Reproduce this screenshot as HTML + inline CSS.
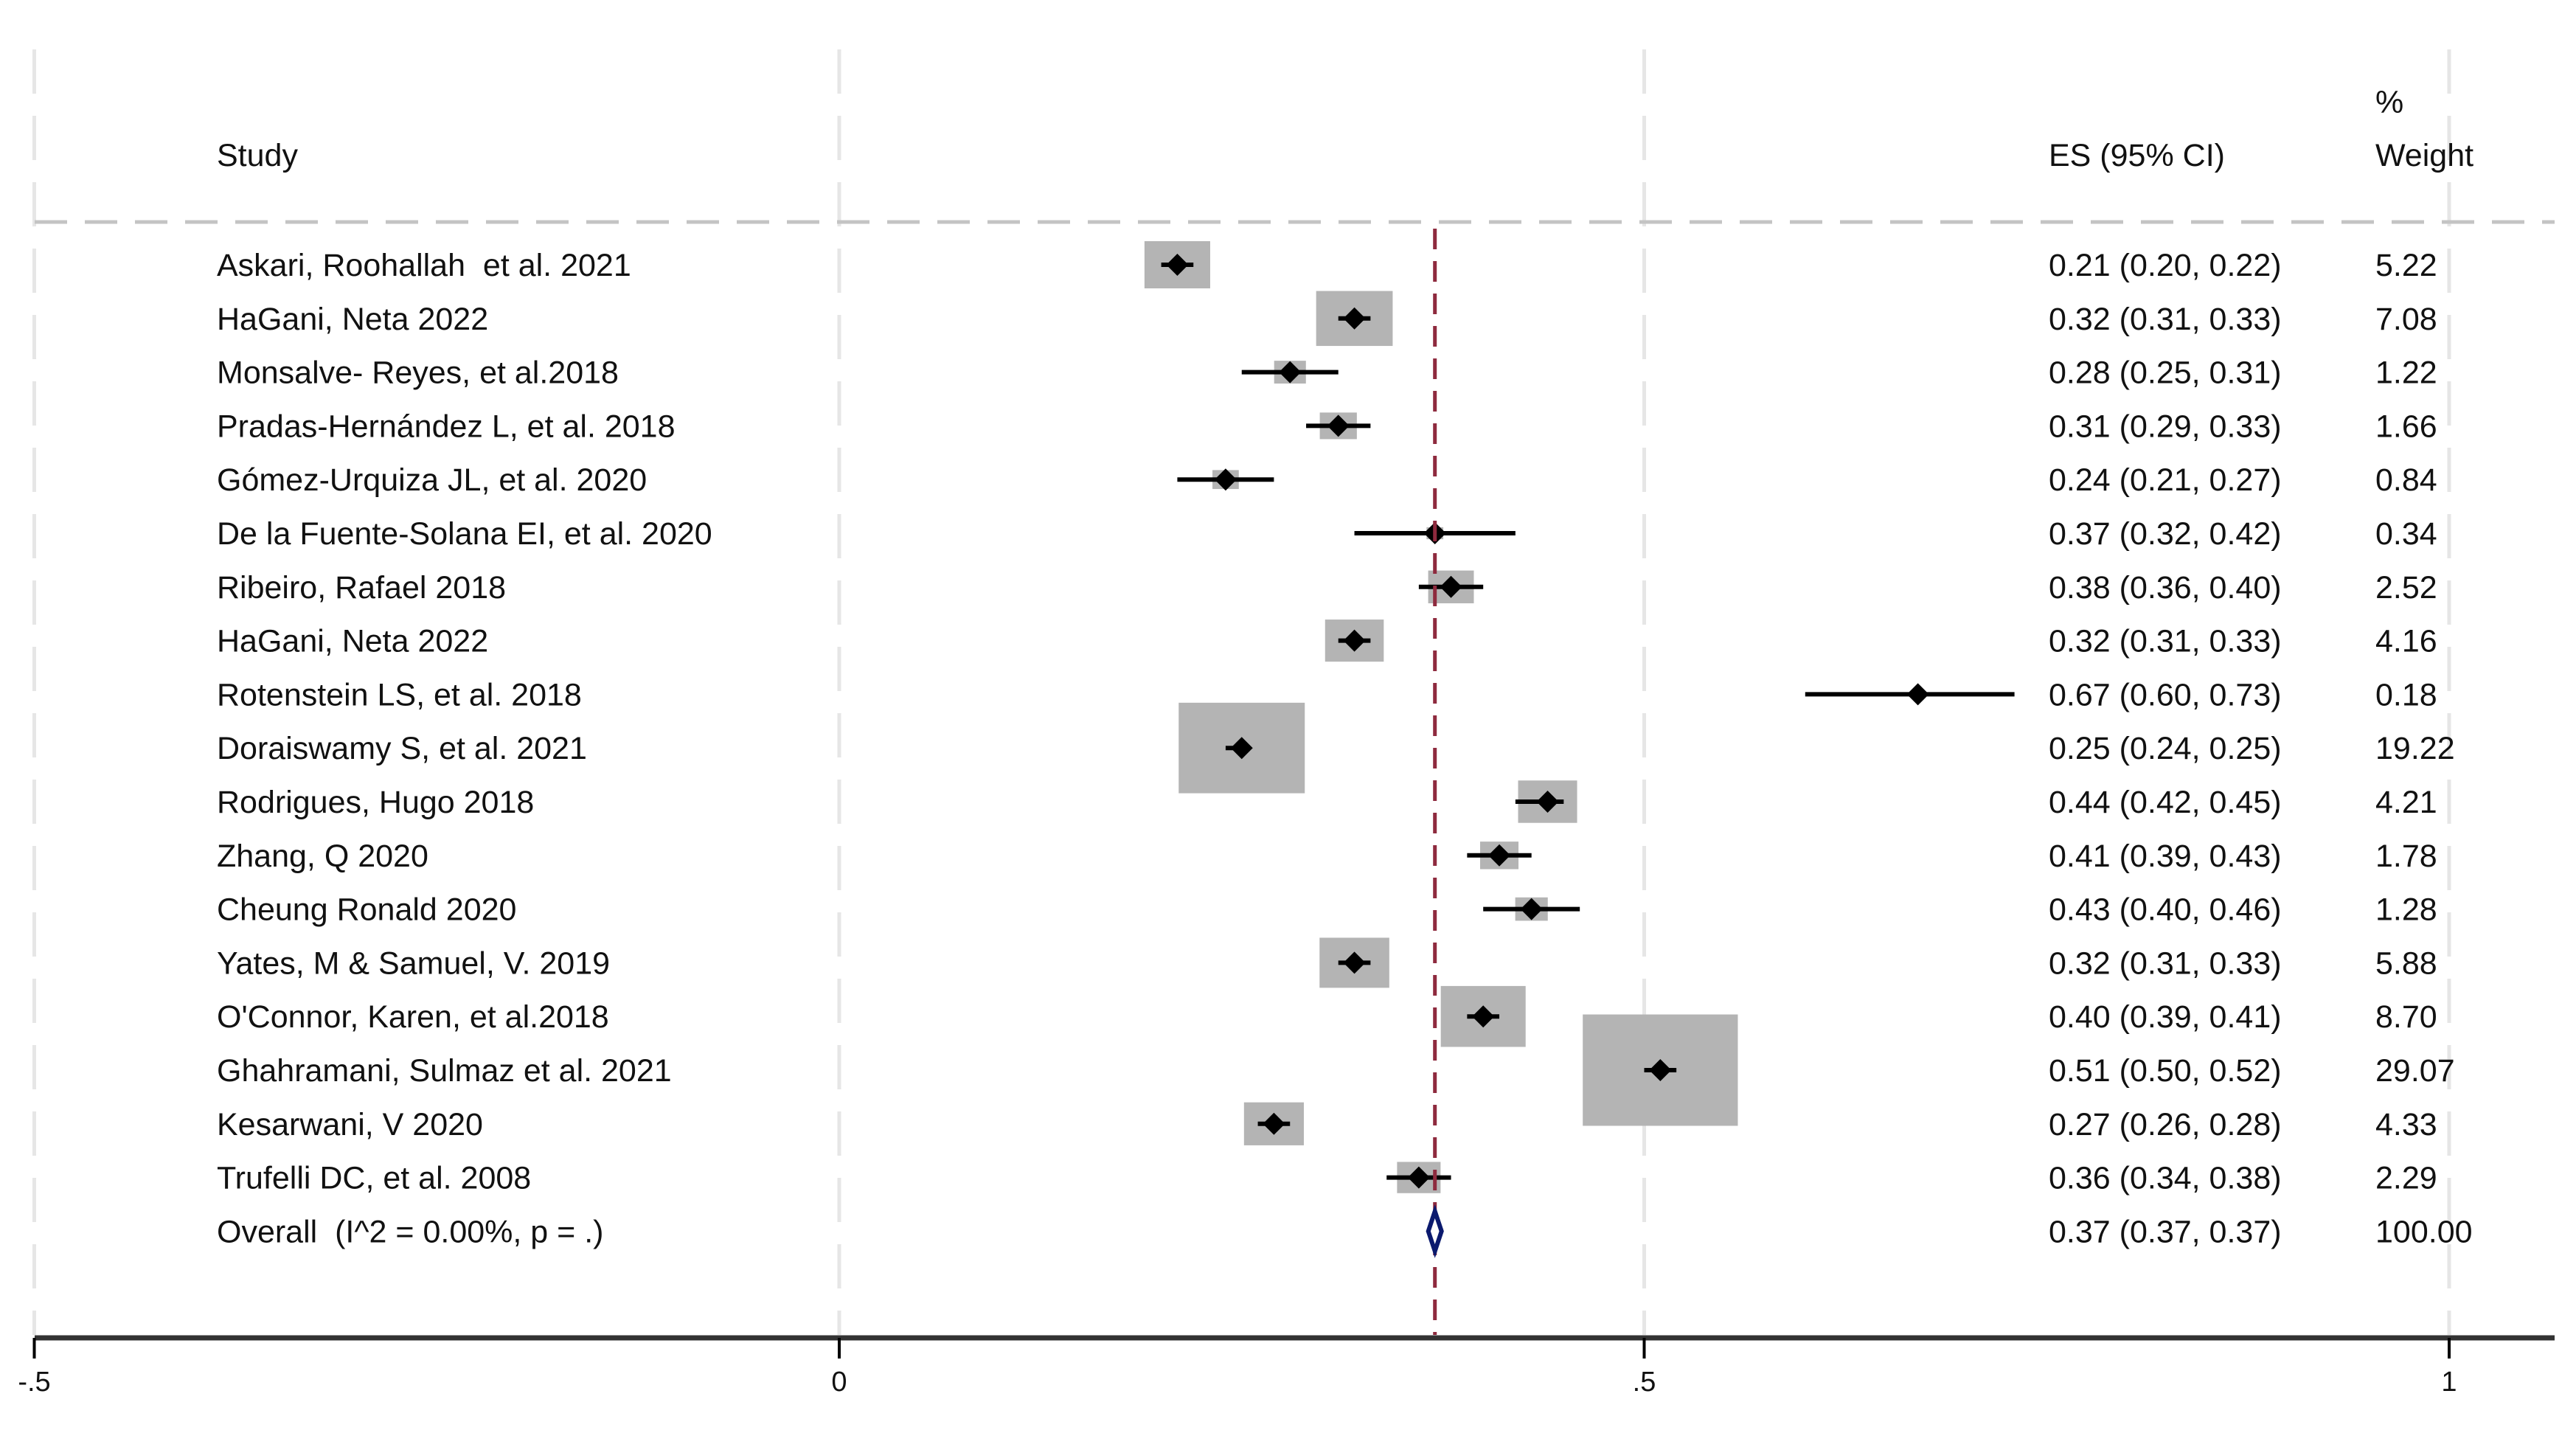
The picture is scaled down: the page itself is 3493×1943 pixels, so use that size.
<!DOCTYPE html>
<html><head><meta charset="utf-8"><style>
html,body{margin:0;padding:0;background:#fff;}
svg{display:block;}
text{font-family:"Liberation Sans",Arial,sans-serif;fill:#111;white-space:pre;}
</style></head><body>
<svg id="chart" width="3493" height="1943" viewBox="0 0 3493 1943" xmlns="http://www.w3.org/2000/svg">
<g id="grid"></g>
<g id="header">
<text x="294" y="225" font-size="43">Study</text>
<text x="2778" y="225" font-size="43">ES (95% CI)</text>
<text x="3221" y="153" font-size="43">%</text>
<text x="3221" y="225" font-size="43">Weight</text>
</g>
<line x1="47" y1="301" x2="3464" y2="301" stroke="#c4c4c4" stroke-width="5" stroke-dasharray="44,24"/>
<g id="marks"></g>
<g id="labels"></g>
<g id="axis"></g>
</svg>
<script>
const studies = ["Askari, Roohallah  et al. 2021","HaGani, Neta 2022","Monsalve- Reyes, et al.2018","Pradas-Hernández L, et al. 2018","Gómez-Urquiza JL, et al. 2020","De la Fuente-Solana EI, et al. 2020","Ribeiro, Rafael 2018","HaGani, Neta 2022","Rotenstein LS, et al. 2018","Doraiswamy S, et al. 2021","Rodrigues, Hugo 2018","Zhang, Q 2020","Cheung Ronald 2020","Yates, M & Samuel, V. 2019","O'Connor, Karen, et al.2018","Ghahramani, Sulmaz et al. 2021","Kesarwani, V 2020","Trufelli DC, et al. 2008"];
const es = [0.21,0.32,0.28,0.31,0.24,0.37,0.38,0.32,0.67,0.25,0.44,0.41,0.43,0.32,0.40,0.51,0.27,0.36];
const lo = [0.20,0.31,0.25,0.29,0.21,0.32,0.36,0.31,0.60,0.24,0.42,0.39,0.40,0.31,0.39,0.50,0.26,0.34];
const hi = [0.22,0.33,0.31,0.33,0.27,0.42,0.40,0.33,0.73,0.25,0.45,0.43,0.46,0.33,0.41,0.52,0.28,0.38];
const weights = [5.22,7.08,1.22,1.66,0.84,0.34,2.52,4.16,0.18,19.22,4.21,1.78,1.28,5.88,8.70,29.07,4.33,2.29];
const overall = {label:"Overall  (I^2 = 0.00%, p = .)", es:0.37, lo:0.37, hi:0.37, w:100};
const ticks = [-0.5, 0, 0.5, 1];
const tickLabels = ["-.5","0",".5","1"];

const NS="http://www.w3.org/2000/svg";
function X(v){return 1138 + v*2183;}
function Y(i){return 359 + i*72.8;}
function mk(tag,attrs,parent){const e=document.createElementNS(NS,tag);for(const k in attrs)e.setAttribute(k,attrs[k]);parent.appendChild(e);return e;}
const grid=document.getElementById('grid'),marks=document.getElementById('marks'),labels=document.getElementById('labels'),axis=document.getElementById('axis');
const fmt=v=>v.toFixed(2);
const FS=43;

ticks.forEach((t,i)=>{
  const g=mk('line',{x1:X(t),x2:X(t),y1:67,y2:1810,stroke:'#e6e6e6','stroke-width':5,'stroke-dasharray':'60,30'},grid);
  
  
});

studies.forEach((s,i)=>{
  const y=Y(i);
  const bw=39*Math.sqrt(weights[i]), bh=28*Math.sqrt(weights[i]);
  const b=mk('rect',{x:X(es[i])-bw/2,y:y-bh/2,width:bw,height:bh,fill:'#b4b4b4'},marks);
  
  
  const c=mk('line',{x1:X(lo[i]),x2:X(hi[i]),y1:y,y2:y,stroke:'#000','stroke-width':6},marks);
  
  
  const cx=X(es[i]);
  const d=mk('polygon',{points:`${cx-15},${y} ${cx},${y-15} ${cx+15},${y} ${cx},${y+15}`,fill:'#000'},marks);
  
  
  const t1=mk('text',{x:294,y:y+15,'font-size':FS},labels);t1.textContent=s;
  
  
  const t2=mk('text',{x:2778,y:y+15,'font-size':FS},labels);t2.textContent=`${fmt(es[i])} (${fmt(lo[i])}, ${fmt(hi[i])})`;
  
  
  const t3=mk('text',{x:3221,y:y+15,'font-size':FS},labels);t3.textContent=fmt(weights[i]);
  
  
});

const oy=Y(studies.length);
const rl=mk('line',{x1:X(overall.es),x2:X(overall.es),y1:310,y2:1810,stroke:'#8e2a3e','stroke-width':5,'stroke-dasharray':'28,16'},marks);


const ol=X(overall.lo)-9, or_=X(overall.hi)+9, oc=X(overall.es);
const od=mk('polygon',{points:`${ol},${oy} ${oc},${oy-27} ${or_},${oy} ${oc},${oy+27}`,fill:'#fff',stroke:'#0b1a6e','stroke-width':6},marks);


const ot1=mk('text',{x:294,y:oy+15,'font-size':FS},labels);ot1.textContent=overall.label;


const ot2=mk('text',{x:2778,y:oy+15,'font-size':FS},labels);ot2.textContent=`${fmt(overall.es)} (${fmt(overall.lo)}, ${fmt(overall.hi)})`;


const ot3=mk('text',{x:3221,y:oy+15,'font-size':FS},labels);ot3.textContent=fmt(overall.w);



const al=mk('line',{x1:47,x2:3464,y1:1814,y2:1814,stroke:'#333','stroke-width':7},axis);


ticks.forEach((t,i)=>{
  const tk=mk('line',{x1:X(t),x2:X(t),y1:1814,y2:1842,stroke:'#000','stroke-width':4},axis);
  
  
  const tl=mk('text',{x:X(t),y:1886,'font-size':38,'text-anchor':'middle'},axis);tl.textContent=tickLabels[i];
  
  
});
</script>
</body></html>
